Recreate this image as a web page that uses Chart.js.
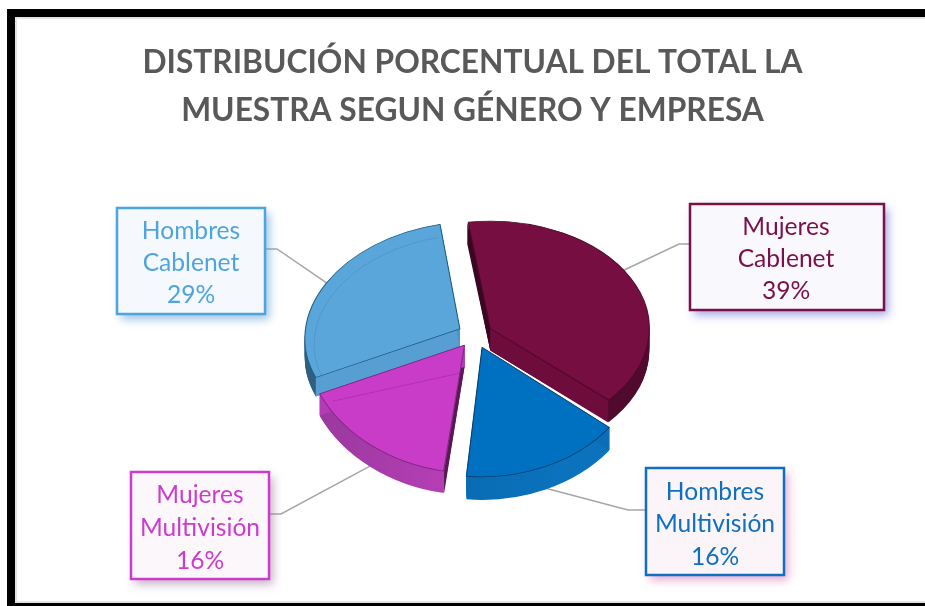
<!DOCTYPE html>
<html lang="es">
<head>
<meta charset="utf-8">
<title>Distribución porcentual</title>
<style>html,body{margin:0;padding:0;background:#fff;overflow:hidden}canvas{display:block}</style>
<script src="https://cdn.jsdelivr.net/npm/chart.js@4"></script>
</head>
<body>
<div style="position:absolute;left:0;top:0;width:925px;height:606px"><canvas id="c"></canvas></div>
<script>
const titleLines = ["DISTRIBUCIÓN PORCENTUAL DEL TOTAL LA", "MUESTRA SEGUN GÉNERO Y EMPRESA"];
const categories = ["Mujeres Cablenet", "Hombres Multivisión", "Mujeres Multivisión", "Hombres Cablenet"];
const values = [39, 16, 16, 29];
const labelLines = [["Mujeres", "Cablenet"], ["Hombres", "Multivisión"], ["Mujeres", "Multivisión"], ["Hombres", "Cablenet"]];

// styling of the slices
const topColors = ["#770e41", "#0070c0", "#c83cc8", "#5aa6da"];
const borderColors = ["#4a0a2a", "#0b3f70", "#7a2a80", "#1f5f85"];
const sideLeft = ["#4a0a2b", "#0762a8", "#98389c", "#2f5f7e"];
const sideRight = ["#4f0a2d", "#0b72bd", "#cb42c9", "#3f7396"];
const startFace = ["#3a0723", "#0b6cb8", "#571a50", "#579fd2"];
const endFace = ["#6e0c3c", "#0b6cb8", "#b53ab5", "#4f93c4"];
const depth = [22, 23, 22, 19];
const tilt = [0.675, 0.80, 0.80, 0.69];
const turn = [-1, -5, -2, -2];
const shearX = [0, 0, 0.03, -0.05];
const shearY = [0, 0, 0.02, -0.04];
const rimTarget = [159, 162, 160, 155];
const paintOrder = [3, 0, 1, 2];
const leaderAt = [0.466, 0.5, 0.5, 0.5];
const leaderDrop = [0, 1, 1, 0];

// callout boxes
const boxes = [
  {x: 690, y: 204, w: 194, h: 106, fill: "#f8f8fd", shadow: "rgba(90,90,210,.55)", elbow: [679, 244], from: [690, 244], ly: [227, 259, 291]},
  {x: 646, y: 468, w: 138, h: 107, fill: "#fbf5f9", shadow: "rgba(214,110,175,.6)", elbow: [628, 510], from: [646, 510], ly: [492, 524, 557]},
  {x: 131, y: 472, w: 138, h: 107, fill: "#fbf7fb", shadow: "rgba(150,110,150,.55)", elbow: [281, 514], from: [269, 514], ly: [495, 528, 561]},
  {x: 117, y: 208, w: 148, h: 106, fill: "#f5f9fd", shadow: "rgba(80,150,210,.6)", elbow: [277, 249], from: [265, 249], ly: [231, 263, 295]}
];
const boxColors = ["#7a1048", "#0f70bf", "#cc3ccc", "#4ea5dd"];

// Chart.js shifts a slice by offset/4 and grows it by offset/4 * (1 - sin(sweep))
function shift(arc) { return arc.options.offset / 4; }
function fullRadius(arc) {
  const sweep = Math.min(Math.PI, arc.endAngle - arc.startAngle);
  return arc.outerRadius + shift(arc) * (1 - Math.sin(sweep));
}
function matrixFor(arc, i) {
  const s = rimTarget[i] / fullRadius(arc);
  return new DOMMatrix().translate(arc.x + 2.5, arc.y)
    .multiply(new DOMMatrix([1, shearY[i], shearX[i], 1, 0, 0]))
    .scale(s, s * tilt[i]).rotate(turn[i]).translate(-arc.x, -arc.y);
}
function rimPoint(arc, i, angle, r, dy) {
  const o = shift(arc), mid = (arc.startAngle + arc.endAngle) / 2;
  const p = matrixFor(arc, i).transformPoint({
    x: arc.x + Math.cos(mid) * o + Math.cos(angle) * r,
    y: arc.y + Math.sin(mid) * o + Math.sin(angle) * r
  });
  return {x: p.x, y: p.y + dy};
}
function drawWith(ctx, arc, i, dy, overrides) {
  const keep = arc.options, m = matrixFor(arc, i);
  arc.options = Object.assign(Object.create(keep), overrides);
  ctx.save();
  ctx.translate(0, dy);
  ctx.transform(m.a, m.b, m.c, m.d, m.e, m.f);
  arc.draw(ctx);
  ctx.restore();
  arc.options = keep;
}
function face(ctx, arc, i, angle, color) {
  const a = rimPoint(arc, i, angle, 0, 0), b = rimPoint(arc, i, angle, fullRadius(arc), 0), d = depth[i];
  ctx.beginPath();
  ctx.moveTo(a.x, a.y); ctx.lineTo(b.x, b.y); ctx.lineTo(b.x, b.y + d); ctx.lineTo(a.x, a.y + d);
  ctx.closePath();
  ctx.fillStyle = color;
  ctx.fill();
}

const pie3d = {
  id: "pie3d",
  beforeDraw(chart) {
    const ctx = chart.ctx;
    ctx.save();
    ctx.fillStyle = "#fff"; ctx.fillRect(0, 0, 925, 606);
    ctx.fillStyle = "#e4e4e4"; ctx.fillRect(15, 17, 910, 2); ctx.fillRect(15, 17, 2, 586); ctx.fillRect(15, 601, 910, 2);
    ctx.fillStyle = "#000"; ctx.fillRect(7, 9, 918, 8); ctx.fillRect(7, 9, 8, 597); ctx.fillRect(7, 603, 918, 3);
    ctx.restore();
  },
  beforeDatasetDraw(chart) {
    const ctx = chart.ctx, arcs = chart.getDatasetMeta(0).data;
    // leader lines
    ctx.save();
    ctx.strokeStyle = "#a6a6a6"; ctx.lineWidth = 1.5;
    arcs.forEach((arc, i) => {
      const ang = arc.startAngle + (arc.endAngle - arc.startAngle) * leaderAt[i];
      const p = rimPoint(arc, i, ang, fullRadius(arc) - 2, leaderDrop[i] * depth[i]);
      const b = boxes[i];
      ctx.beginPath();
      ctx.moveTo(b.from[0], b.from[1]); ctx.lineTo(b.elbow[0], b.elbow[1]); ctx.lineTo(p.x, p.y);
      ctx.stroke();
    });
    ctx.restore();
    // extruded slices
    paintOrder.forEach(i => {
      const arc = arcs[i], m = matrixFor(arc, i), R = fullRadius(arc);
      const g = ctx.createLinearGradient(arc.x - R, 0, arc.x + R * 0.4, 0);
      g.addColorStop(0, sideLeft[i]); g.addColorStop(1, sideRight[i]);
      for (let d = depth[i]; d >= 1; d--) {
        drawWith(ctx, arc, i, d, {backgroundColor: g, borderWidth: 0});
      }
      face(ctx, arc, i, arc.startAngle, startFace[i]);
      face(ctx, arc, i, arc.endAngle, endFace[i]);
      drawWith(ctx, arc, i, 0, {});
      if (i === 3) {
        const o = shift(arc), mid = (arc.startAngle + arc.endAngle) / 2;
        ctx.save();
        ctx.transform(m.a, m.b, m.c, m.d, m.e, m.f);
        ctx.beginPath();
        ctx.arc(arc.x + Math.cos(mid) * o, arc.y + Math.sin(mid) * o + 9, R - 9, arc.startAngle + 0.05, arc.endAngle - 0.02);
        ctx.strokeStyle = "rgba(60,120,170,.45)"; ctx.lineWidth = 0.8;
        ctx.stroke();
        ctx.restore();
      }
      if (i === 2) {
        const a = rimPoint(arc, i, arc.endAngle, R - 14, 12), b = rimPoint(arc, i, arc.endAngle, 0, 27);
        ctx.save();
        ctx.strokeStyle = "rgba(130,30,140,.45)"; ctx.lineWidth = 0.8;
        ctx.beginPath(); ctx.moveTo(a.x, a.y); ctx.lineTo(b.x, b.y); ctx.stroke();
        ctx.restore();
      }
    });
    return false;
  },
  afterDraw(chart) {
    const ctx = chart.ctx;
    boxes.forEach((b, i) => {
      ctx.save();
      ctx.shadowColor = b.shadow; ctx.shadowBlur = 9; ctx.shadowOffsetX = 4; ctx.shadowOffsetY = 5;
      ctx.fillStyle = b.fill;
      ctx.fillRect(b.x, b.y, b.w, b.h);
      ctx.restore();
      ctx.save();
      ctx.strokeStyle = boxColors[i]; ctx.lineWidth = 2.5;
      ctx.strokeRect(b.x, b.y, b.w, b.h);
      ctx.fillStyle = boxColors[i];
      ctx.font = '400 24.6px Lato';
      ctx.textAlign = "center"; ctx.textBaseline = "middle";
      const cx = b.x + b.w / 2 + (i === 0 ? -1 : 0);
      labelLines[i].forEach((t, k) => ctx.fillText(t, cx, b.ly[k]));
      ctx.fillText(values[i] + "%", cx, b.ly[2]);
      ctx.restore();
    });
  }
};

new Chart(document.getElementById("c"), {
  type: "pie",
  data: {
    labels: categories,
    datasets: [{
      data: values,
      backgroundColor: topColors,
      borderColor: borderColors,
      borderWidth: 1,
      offset: 68
    }]
  },
  options: {
    responsive: true,
    maintainAspectRatio: false,
    animation: false,
    rotation: -7.3,
    radius: 150,
    layout: {padding: {left: 20, right: 0, top: 0, bottom: 73}},
    plugins: {
      legend: {display: false},
      tooltip: {enabled: false},
      title: {
        display: true,
        text: titleLines,
        color: "#595959",
        font: {family: "Lato", weight: "bold", size: 31.7, lineHeight: 1.514},
        padding: {top: 39, bottom: 0}
      }
    }
  },
  plugins: [pie3d]
});
</script>
</body>
</html>
